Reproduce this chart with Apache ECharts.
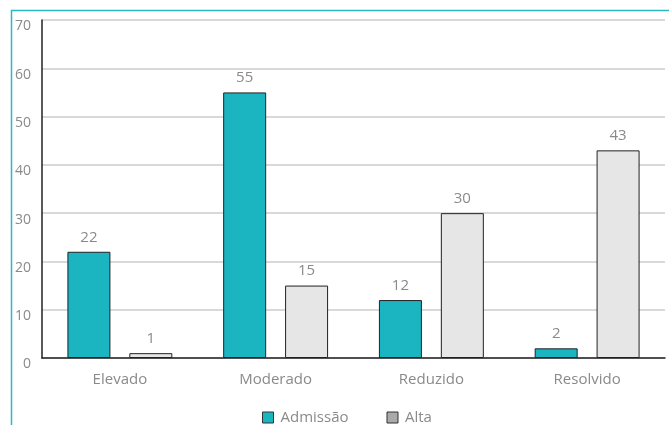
<!DOCTYPE html>
<html><head><meta charset="utf-8">
<script src="https://cdn.jsdelivr.net/npm/echarts@6/dist/echarts.min.js"></script>
<style>html,body{margin:0;padding:0;background:#fff}#c{width:669px;height:425px}</style>
</head><body><div id="c"></div>
<script>
var categories = ['Elevado', 'Moderado', 'Reduzido', 'Resolvido'];
var admissao = [22, 55, 12, 2];
var alta = [1, 15, 30, 43];
var yTicks = [0, 10, 20, 30, 40, 50, 60, 70];

var chart = echarts.init(document.getElementById('c'));
var font = 'Open Sans';
var grey = '#8a8a8a';
chart.setOption({
  animation: false,
  textStyle: { fontFamily: font },
  graphic: [{
    type: 'rect', shape: { x: 11.5, y: 10.5, width: 700, height: 500 },
    style: { fill: 'none', stroke: '#2bb8c4', lineWidth: 1.5 }, z: 0
  }],
  grid: { left: 42, right: 4, top: 20, bottom: 67 },
  legend: {
    top: 405, left: 257, itemWidth: 11, itemHeight: 11, itemGap: 38,
    icon: 'rect',
    textStyle: { color: grey, fontSize: 15, fontFamily: font, padding: [0, 0, 0, 2] },
    data: [
      { name: 'Admissão', itemStyle: { color: '#1ab5c1', borderColor: '#333', borderWidth: 1 } },
      { name: 'Alta', itemStyle: { color: '#aaaaaa', borderColor: '#333', borderWidth: 1 } }
    ]
  },
  xAxis: {
    type: 'category', data: categories,
    axisLine: { lineStyle: { color: '#222', width: 1.5 } },
    axisTick: { inside: true, length: 7, lineStyle: { color: '#222', width: 1.5 } },
    axisLabel: { color: grey, fontSize: 15, margin: 14, fontFamily: font }
  },
  yAxis: {
    type: 'value', min: 0, max: 70, interval: 10,
    axisLine: { show: true, lineStyle: { color: '#222', width: 1.5 } },
    axisTick: { show: false },
    axisLabel: { color: grey, fontSize: 14, margin: 11, fontFamily: font,
      verticalAlign: 'top', lineHeight: 13,
      formatter: function (v) { return yTicks.indexOf(v) >= 0 ? String(v) : ''; } },
    splitLine: { lineStyle: { color: '#cccccc', width: 1.5 } }
  },
  series: [
    { name: 'Admissão', type: 'bar', data: admissao, barWidth: 43, barGap: '44%',
      itemStyle: { color: '#1ab5c1', borderColor: '#222', borderWidth: 1 },
      label: { show: true, position: 'top', distance: 7, color: grey, fontSize: 15, fontFamily: font } },
    { name: 'Alta', type: 'bar', data: alta, barWidth: 43,
      itemStyle: { color: '#e6e6e6', borderColor: '#222', borderWidth: 1 },
      label: { show: true, position: 'top', distance: 7, color: grey, fontSize: 15, fontFamily: font } }
  ]
});
</script></body></html>
